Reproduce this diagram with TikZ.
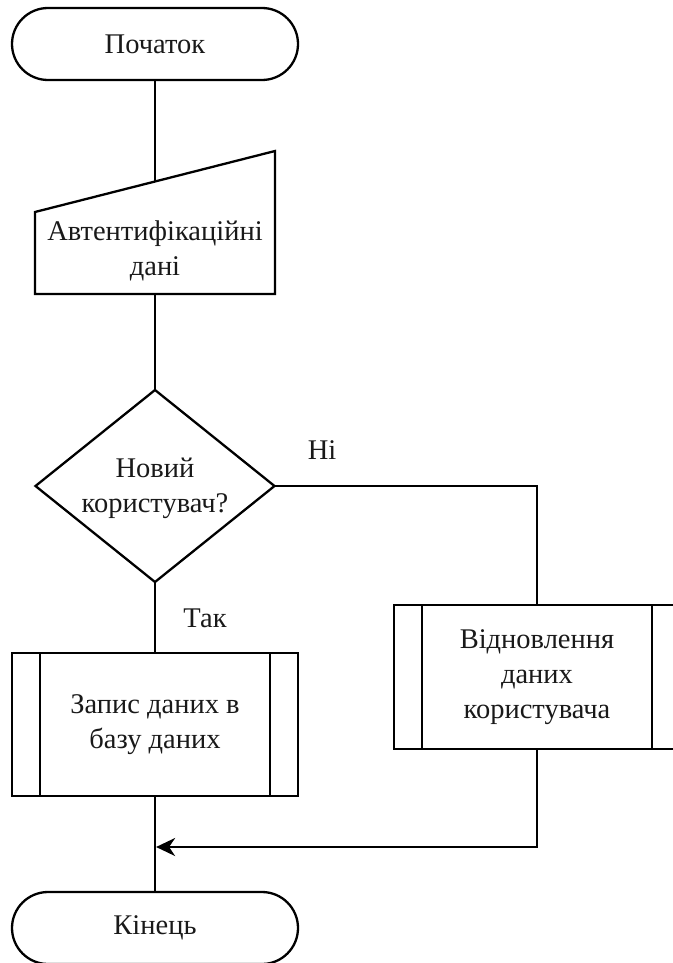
\documentclass[tikz,border=0pt]{standalone}
\usepackage{fontspec}
\setmainfont{Liberation Serif}
\newfontfamily\chartfont{Liberation Serif}
\usetikzlibrary{arrows.meta,calc}
\begin{document}
\begin{tikzpicture}[x=1pt,y=-1pt,
  line width=2.3pt,
  every node/.style={font=\chartfont\fontsize{28.5}{35}\selectfont, align=center, inner sep=0pt, outer sep=0pt, text=black!90},
  terminal/.style={draw, rounded corners=36pt, minimum width=286pt, minimum height=72pt},
  subproc/.style={draw, minimum width=286pt, minimum height=144pt},
  frame/.style={minimum width=#1},
  tip/.style={-{Stealth[length=19pt,width=18pt,inset=6pt]}}
]
\useasboundingbox (0,0) rectangle (672,963);

% start / end terminals
\node[terminal] (start) at (155,44) {Початок};
\node[terminal] (finish) at (155,928) {Кінець};

% manual input: sloped top edge
\node[frame=240pt, minimum height=143pt] (inp) at (155,222.5) {};
\draw ($(inp.north west)+(0,61)$) -- (inp.north east) -- (inp.south east) -- (inp.south west) -- cycle;
\coordinate (inptop) at ($(inp.north)+(0,30.5)$);
\node (inptxt) at (155,251) {Автентифікаційні\\дані};

% decision
\node[frame=239pt, minimum height=192pt] (dec) at (155,486) {};
\draw (dec.north) -- (dec.east) -- (dec.south) -- (dec.west) -- cycle;
\node (dectxt) at (155,488) {Новий\\користувач?};

% predefined processes
\node[subproc, minimum height=143pt] (save) at (155,724.5) {Запис даних в\\базу даних};
\draw ([xshift=28pt]save.north west) -- ([xshift=28pt]save.south west);
\draw ([xshift=-28pt]save.north east) -- ([xshift=-28pt]save.south east);

\node[subproc] (restore) at (537,677) {Відновлення\\даних\\користувача};
\draw ([xshift=28pt]restore.north west) -- ([xshift=28pt]restore.south west);
\draw ([xshift=-28pt]restore.north east) -- ([xshift=-28pt]restore.south east);

% branch labels
\node (no) at (322,450) {Ні};
\node (yes) at (205,618) {Так};

% connectors
\coordinate (merge) at (156.1,847);
\draw (start.south) -- (inptop);
\draw (inp.south) -- (dec.north);
\draw (dec.south) -- (save.north);
\draw (dec.east) -| (restore.north);
\draw (save.south) -- (finish.north);
\draw[tip] (restore.south) |- (merge);
\end{tikzpicture}
\end{document}
